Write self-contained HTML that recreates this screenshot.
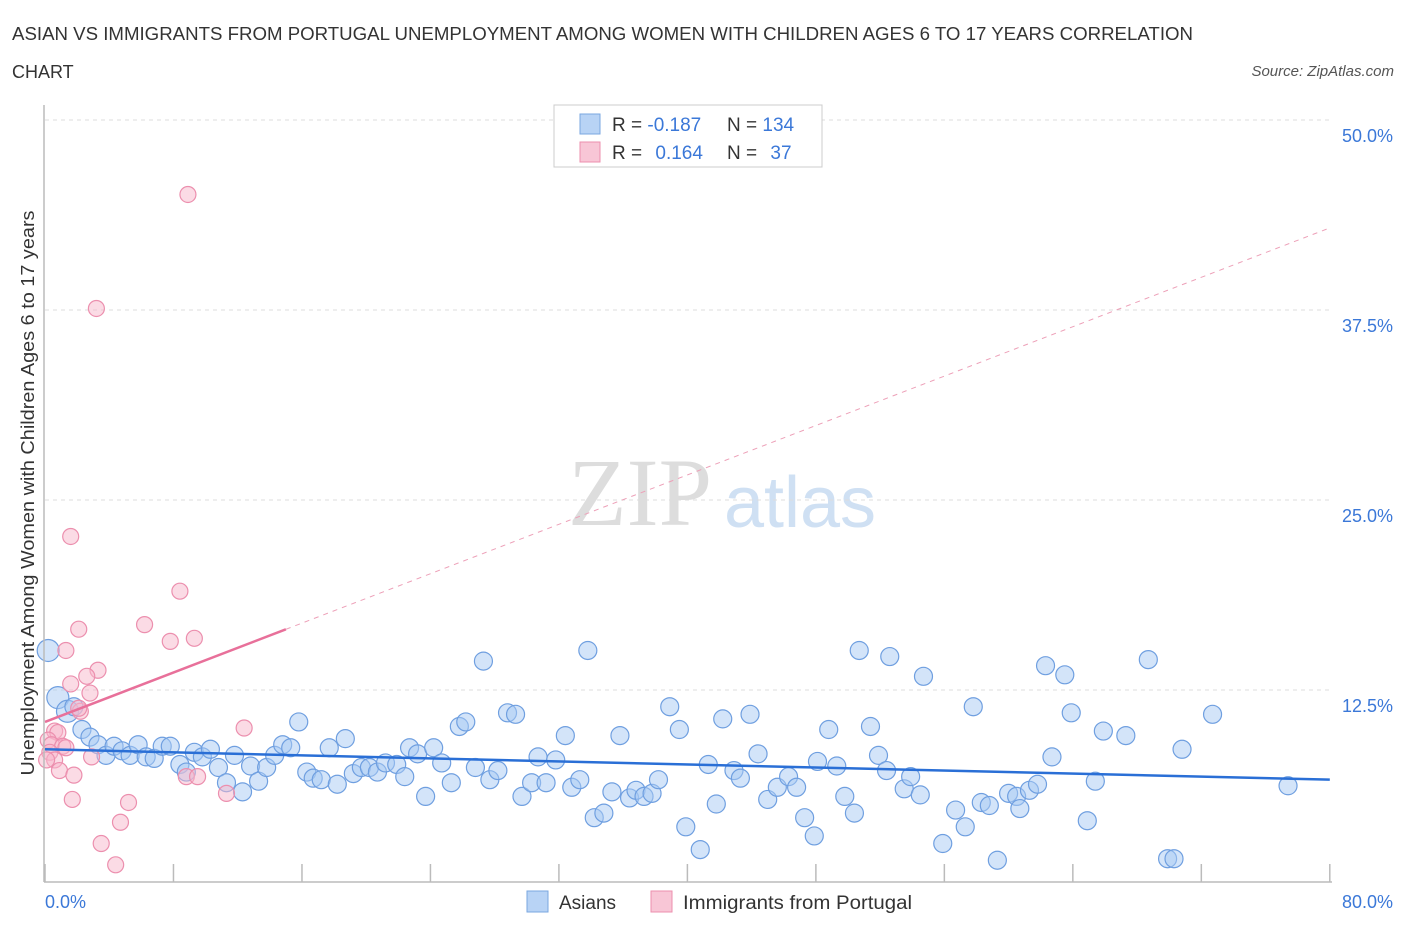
<!DOCTYPE html>
<html><head><meta charset="utf-8"><style>
body{margin:0;background:#fff;font-family:"Liberation Sans",sans-serif;}
#c{position:relative;width:1406px;height:930px;overflow:hidden;}
</style></head><body>
<div id="c">
<svg id="s" width="1406" height="930" xmlns="http://www.w3.org/2000/svg">
<text x="12" y="40" font-size="18" fill="#333" textLength="1181" lengthAdjust="spacingAndGlyphs">ASIAN VS IMMIGRANTS FROM PORTUGAL UNEMPLOYMENT AMONG WOMEN WITH CHILDREN AGES 6 TO 17 YEARS CORRELATION</text>
<text x="12" y="78" font-size="18" fill="#333">CHART</text>
<text x="1394" y="76" font-size="15" fill="#555" font-style="italic" text-anchor="end">Source: ZipAtlas.com</text>
<text x="640" y="525" font-size="96" fill="#ddd" font-family="Liberation Serif,serif" text-anchor="middle">ZIP</text>
<text x="800" y="527" font-size="72" fill="#cfe0f3" text-anchor="middle">atlas</text>
<g id="grid"></g><g id="pts"></g><g id="lines"></g>
<line x1="44" y1="105" x2="44" y2="882" stroke="#bbb" stroke-width="1.5"/>
<line x1="44" y1="882" x2="1332" y2="882" stroke="#bbb" stroke-width="1.5"/>
<text x="34" y="493" font-size="18" fill="#333" text-anchor="middle" textLength="565" lengthAdjust="spacingAndGlyphs" transform="rotate(-90 34 493)">Unemployment Among Women with Children Ages 6 to 17 years</text>
<text x="45" y="908" font-size="18" fill="#3b78d8">0.0%</text>
<text x="1393" y="908" font-size="18" fill="#3b78d8" text-anchor="end">80.0%</text>
<g>
<rect x="554" y="105" width="268" height="62" fill="#fff" stroke="#ccc"/>
<rect x="580" y="114" width="20" height="20" fill="#b8d3f5" stroke="#7aa7e0"/>
<rect x="580" y="142" width="20" height="20" fill="#f8c6d6" stroke="#ec8fae"/>
<text x="612" y="131" font-size="19" fill="#333">R = <tspan fill="#3b78d8">-0.187</tspan></text>
<text x="727" y="131" font-size="19" fill="#333">N = <tspan fill="#3b78d8">134</tspan></text>
<text x="612" y="159" font-size="19" fill="#333">R = <tspan fill="#3b78d8" dx="8">0.164</tspan></text>
<text x="727" y="159" font-size="19" fill="#333">N = <tspan fill="#3b78d8" dx="8">37</tspan></text>
</g>
<g>
<rect x="527" y="891" width="21" height="21" fill="#b8d3f5" stroke="#7aa7e0"/>
<text x="559" y="909" font-size="19" fill="#333">Asians</text>
<rect x="651" y="891" width="21" height="21" fill="#f8c6d6" stroke="#ec8fae"/>
<text x="683" y="909" font-size="19" fill="#333" textLength="229" lengthAdjust="spacingAndGlyphs">Immigrants from Portugal</text>
</g>
</svg>
</div>
<script>
const yTicks=[12.5,25,37.5,50];
const yTickLabels=["12.5%","25.0%","37.5%","50.0%"];
const xTicks=[0,8,16,24,32,40,48,56,64,72,80];
const blueX=[0.2,0.8,1.4,1.8,2.3,2.8,3.3,3.8,4.3,4.8,5.3,5.8,6.3,6.8,7.3,7.8,8.4,8.8,9.3,9.8,10.3,10.8,11.3,11.8,12.3,12.8,13.3,13.8,14.3,14.8,15.3,15.8,16.3,16.7,17.2,17.7,18.2,18.7,19.2,19.7,20.2,20.7,21.2,21.9,22.4,22.7,23.2,23.7,24.2,24.7,25.3,25.8,26.2,26.8,27.3,27.7,28.2,28.8,29.3,29.7,30.3,30.7,31.2,31.8,32.4,32.8,33.3,33.8,34.2,34.8,35.3,35.8,36.4,36.8,37.3,37.8,38.2,38.9,39.5,39.9,40.8,41.3,41.8,42.2,42.9,43.3,43.9,44.4,45.0,45.6,46.3,46.8,47.3,47.9,48.1,48.8,49.3,49.8,50.4,50.7,51.4,51.9,52.4,52.6,53.5,53.9,54.5,54.7,55.9,56.7,57.3,57.8,58.3,58.8,59.3,60.0,60.5,60.7,61.3,61.8,62.3,62.7,63.5,63.9,64.9,65.4,65.9,67.3,68.7,69.9,70.3,70.8,72.7,77.4];
const blueY=[15.1,12.0,11.1,11.4,9.9,9.4,8.9,8.2,8.8,8.5,8.2,8.9,8.1,8.0,8.8,8.8,7.6,7.1,8.4,8.1,8.6,7.4,6.4,8.2,5.8,7.5,6.5,7.4,8.2,8.9,8.7,10.4,7.1,6.7,6.6,8.7,6.3,9.3,7.0,7.4,7.4,7.1,7.7,7.6,6.8,8.7,8.3,5.5,8.7,7.7,6.4,10.1,10.4,7.4,14.4,6.6,7.2,11.0,10.9,5.5,6.4,8.1,6.4,7.9,9.5,6.1,6.6,15.1,4.1,4.4,5.8,9.5,5.4,5.9,5.5,5.7,6.6,11.4,9.9,3.5,2.0,7.6,5.0,10.6,7.2,6.7,10.9,8.3,5.3,6.1,6.8,6.1,4.1,2.9,7.8,9.9,7.5,5.5,4.4,15.1,10.1,8.2,7.2,14.7,6.0,6.8,5.6,13.4,2.4,4.6,3.5,11.4,5.1,4.9,1.3,5.7,5.5,4.7,5.9,6.3,14.1,8.1,13.5,11.0,3.9,6.5,9.8,9.5,14.5,1.4,1.4,8.6,10.9,6.2];
const pinkX=[8.9,3.2,1.6,8.4,6.2,2.1,9.3,7.8,1.3,3.3,2.6,1.6,2.8,2.2,2.1,12.4,0.6,0.8,0.2,0.4,1.1,1.3,0.3,2.9,0.6,0.9,1.8,8.8,9.5,11.3,1.7,5.2,4.7,3.5,4.4,0.1];
const pinkY=[45.1,37.6,22.6,19.0,16.8,16.5,15.9,15.7,15.1,13.8,13.4,12.9,12.3,11.1,11.3,10.0,9.8,9.7,9.2,8.9,8.8,8.7,8.4,8.1,7.9,7.2,6.9,6.8,6.8,5.7,5.3,5.1,3.8,2.4,1.0,7.9];
const blueTrend=[8.6,6.6];
const pinkTrend=[10.4,42.9];
const NS="http://www.w3.org/2000/svg";
function sx(v){return 45+v*16.06;}
function sy(v){return 880-v*15.2;}
function mk(t,a,p){const e=document.createElementNS(NS,t);for(const k in a)e.setAttribute(k,a[k]);document.getElementById(p).appendChild(e);return e;}
yTicks.forEach((v,i)=>{
 const l=mk('line',{x1:45,x2:1332,y1:sy(v),y2:sy(v),stroke:'#ddd','stroke-dasharray':'4,4'},'grid');
 
 
 const t=mk('text',{x:1393,y:sy(v)+22,'font-size':18,fill:'#3b78d8','text-anchor':'end'},'grid');
 t.textContent=yTickLabels[i];
 
 
});
xTicks.forEach(v=>{
 const l=mk('line',{x1:sx(v),x2:sx(v),y1:864,y2:882,stroke:'#bbb','stroke-width':1.5},'grid');
 
 
});
blueX.forEach((x,i)=>{
 const r=(i<3)?11:9;
 const c=mk('circle',{cx:sx(x),cy:sy(blueY[i]),r:r,fill:'rgba(168,202,243,0.5)',stroke:'#6f9fe0','stroke-width':1.2},'pts');
 
 
});
pinkX.forEach((x,i)=>{
 const c=mk('circle',{cx:sx(x),cy:sy(pinkY[i]),r:8,fill:'rgba(247,184,204,0.5)',stroke:'#ec8fae','stroke-width':1.2},'pts');
 
 
});
const bl=mk('line',{x1:sx(0),y1:sy(blueTrend[0]),x2:sx(80),y2:sy(blueTrend[1]),stroke:'#2a6fd6','stroke-width':2.5},'lines');


const pm=pinkTrend[0]+(pinkTrend[1]-pinkTrend[0])*15/80;
const ps=mk('line',{x1:sx(0),y1:sy(pinkTrend[0]),x2:sx(15),y2:sy(pm),stroke:'#e8709a','stroke-width':2.5},'lines');


const pd=mk('line',{x1:sx(15),y1:sy(pm),x2:sx(80),y2:sy(pinkTrend[1]),stroke:'#eda0b8','stroke-width':1,'stroke-dasharray':'5,5'},'lines');


</script>
</body></html>
